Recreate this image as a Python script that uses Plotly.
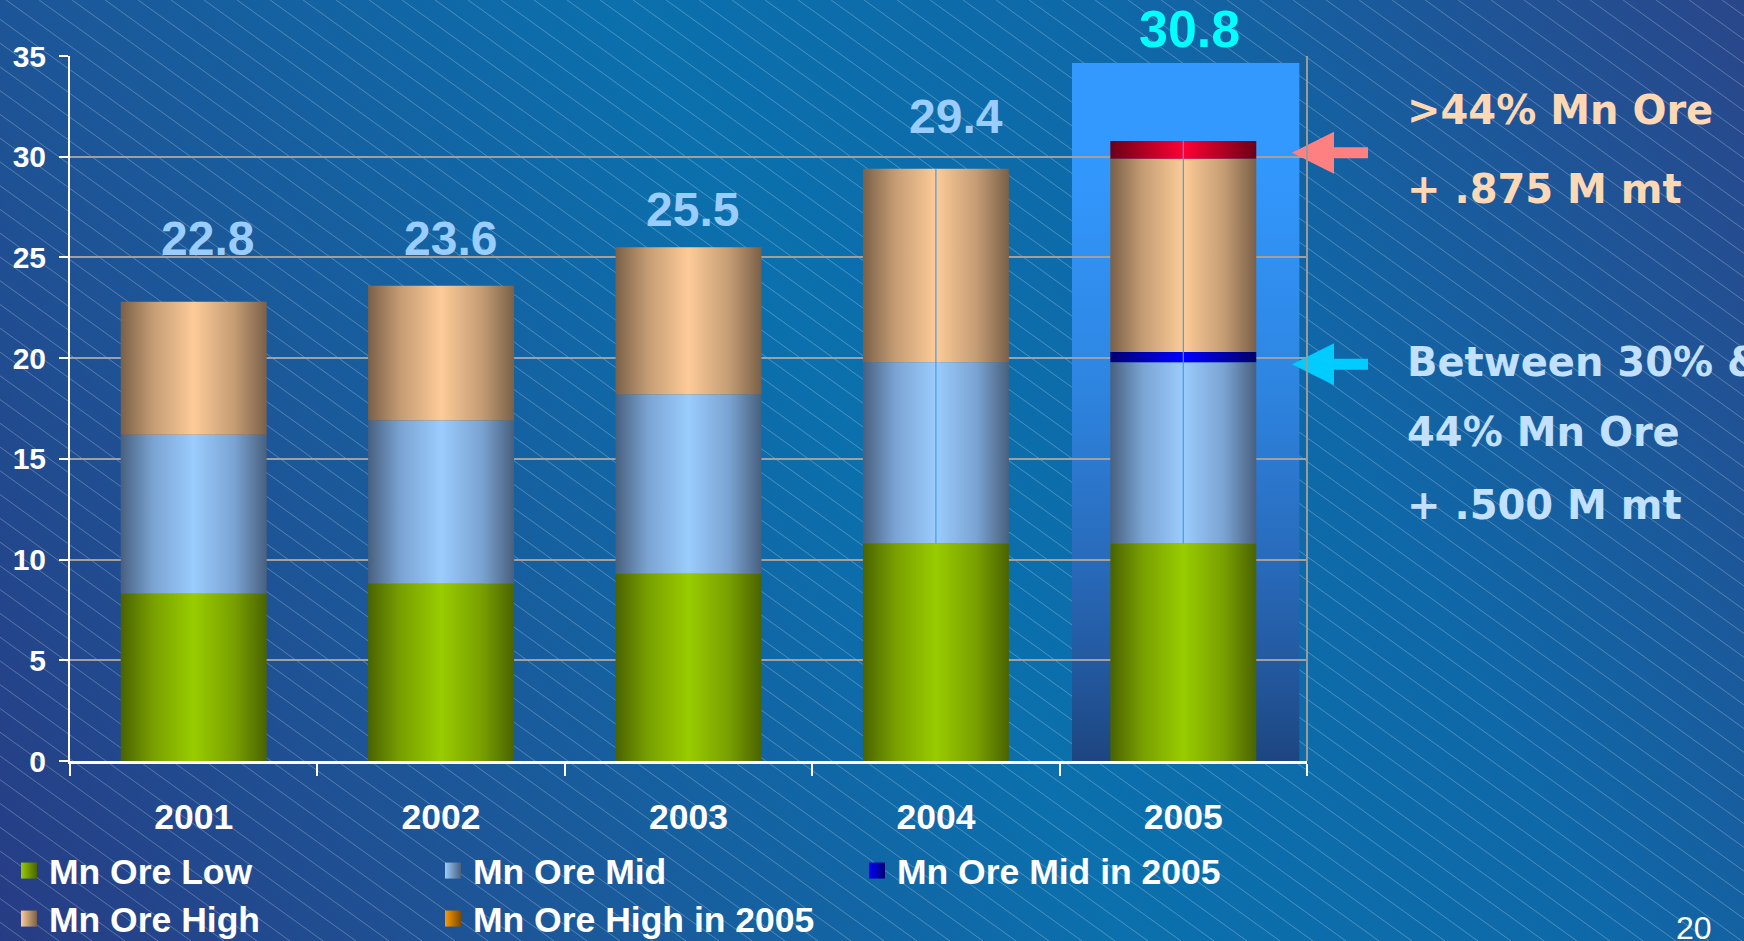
import base64
import plotly.graph_objects as go

# ---------------- data ----------------
years = ["2001", "2002", "2003", "2004", "2005"]
mn_ore_low = [8.3, 8.8, 9.3, 10.8, 10.8]
mn_ore_mid = [7.9, 8.1, 8.9, 9.0, 9.0]
mn_ore_mid_2005 = [0, 0, 0, 0, 0.5]
mn_ore_high = [6.6, 6.7, 7.3, 9.6, 9.6]
mn_ore_high_2005 = [0, 0, 0, 0, 0.875]
totals = [22.8, 23.6, 25.5, 29.4, 30.8]

# ---------------- styles ----------------
W, H = 1744, 941
ML, MR, MT, MB = 70, 437, 56, 180
PW, PH = W - ML - MR, H - MT - MB
Y_MAX = 35
BAR_HALF = 0.295
FONT = "Liberation Sans, Arial, sans-serif"
WIDE_FONT = "DejaVu Sans, Verdana, sans-serif"

scales = {
    "low": [[0, "#4a6300"], [0.22, "#789f00"], [0.5, "#99cc00"], [0.78, "#789f00"], [1, "#4a6300"]],
    "mid": [[0, "#48607f"], [0.22, "#7aa3d2"], [0.5, "#9accfd"], [0.78, "#7aa3d2"], [1, "#48607f"]],
    "mid05": [[0, "#000070"], [0.5, "#0000ff"], [1, "#000066"]],
    "high": [[0, "#7a6048"], [0.22, "#c49c74"], [0.5, "#fdcb98"], [0.78, "#c49c74"], [1, "#7a6048"]],
    "high05": [[0, "#6b0016"], [0.5, "#ff0033"], [1, "#6b0016"]],
}

# label placement (pixel shifts)
label_yshift = [63, 47, 38, 52, 112]
label_xshift = [14, 9, 4, 20, 6]
label_colors = ["#99ccff", "#99ccff", "#99ccff", "#99ccff", "#00ffff"]
label_sizes = [48, 48, 48, 48, 52]

fig = go.Figure()

# ---------------- background (svg) ----------------
lines = []
slope = 0.72
run = H / slope
c = -run - 40
while c < W + 40:
    lines.append(f'<line x1="{c:.1f}" y1="0" x2="{c + run:.1f}" y2="{H}"/>')
    c += 33
bg_svg = (
    f'<svg xmlns="http://www.w3.org/2000/svg" width="{W}" height="{H}" viewBox="0 0 {W} {H}" preserveAspectRatio="none">'
    '<defs><linearGradient id="g" gradientUnits="userSpaceOnUse" x1="0" y1="941" x2="1744" y2="0">'
    '<stop offset="0" stop-color="#273c84"/>'
    '<stop offset="0.22" stop-color="#1d5597"/>'
    '<stop offset="0.5" stop-color="#0b70ad"/>'
    '<stop offset="0.72" stop-color="#0f68a8"/>'
    '<stop offset="1" stop-color="#2a468a"/>'
    '</linearGradient></defs>'
    f'<rect width="{W}" height="{H}" fill="url(#g)"/>'
    '<g stroke="#ffffff" stroke-opacity="0.26" stroke-width="1">' + "".join(lines) + '</g></svg>'
)
fig.add_layout_image(
    source="data:image/svg+xml;base64," + base64.b64encode(bg_svg.encode()).decode(),
    xref="paper", yref="paper",
    x=-ML / PW, y=1 + MT / PH, sizex=W / PW, sizey=H / PH,
    xanchor="left", yanchor="top", sizing="stretch", layer="below",
)

# highlight panel behind 2005
hl_svg = (
    '<svg xmlns="http://www.w3.org/2000/svg" width="100" height="700" viewBox="0 0 100 700" preserveAspectRatio="none">'
    '<defs><linearGradient id="h" x1="0" y1="0" x2="0" y2="1">'
    '<stop offset="0" stop-color="#3399ff"/>'
    '<stop offset="0.12" stop-color="#3399ff"/>'
    '<stop offset="0.45" stop-color="#2e86e2"/>'
    '<stop offset="0.7" stop-color="#296cbd"/>'
    '<stop offset="0.87" stop-color="#23589e"/>'
    '<stop offset="1" stop-color="#1d4680"/>'
    '</linearGradient></defs>'
    '<rect width="100" height="700" fill="url(#h)"/></svg>'
)
hl_idx = years.index("2005")
fig.add_layout_image(
    source="data:image/svg+xml;base64," + base64.b64encode(hl_svg.encode()).decode(),
    xref="x", yref="y", x=hl_idx - 0.45, y=34.66, sizex=0.92, sizey=34.66,
    xanchor="left", yanchor="top", sizing="stretch", layer="below",
)

# ---------------- bars ----------------
segments = [
    (mn_ore_low, "low"),
    (mn_ore_mid, "mid"),
    (mn_ore_mid_2005, "mid05"),
    (mn_ore_high, "high"),
    (mn_ore_high_2005, "high05"),
]
base = [0.0] * len(years)
for vals, key in segments:
    for i, v in enumerate(vals):
        if v > 0:
            x0, x1 = i - BAR_HALF, i + BAR_HALF
            y0, y1 = base[i], base[i] + v
            fig.add_trace(go.Scatter(
                x=[x0, x1, x1, x0, x0], y=[y0, y0, y1, y1, y0],
                mode="lines", fill="toself", line=dict(width=0),
                fillgradient=dict(type="horizontal", colorscale=scales[key]),
                showlegend=False, hoverinfo="skip",
            ))
        base[i] += v

# thin centre lines on 2004 / 2005 bars
cx, cy = [], []
for i in (3, 4):
    cx += [i, i, None]
    cy += [mn_ore_low[i], base[i], None]
fig.add_trace(go.Scatter(x=cx, y=cy, mode="lines", line=dict(color="#4a98e8", width=1.2),
                         showlegend=False, hoverinfo="skip"))

# ---------------- legend entries ----------------
legend_items = [
    ("Mn Ore Low", "#99cc00", "#4a6300", "legend"),
    ("Mn Ore Mid", "#9accfd", "#48607f", "legend"),
    ("Mn Ore Mid in 2005", "#0000ff", "#000070", "legend"),
    ("Mn Ore High", "#fdcb98", "#7a6048", "legend2"),
    ("Mn Ore High in 2005", "#ff9900", "#7a4a00", "legend2"),
]
for name, light, dark, leg in legend_items:
    fig.add_trace(go.Scatter(
        x=[None], y=[None], mode="markers", name=name, legend=leg,
        marker=dict(symbol="square", size=20, color=light,
                    gradient=dict(type="horizontal", color=dark), line=dict(width=0)),
    ))

# ---------------- value labels ----------------
for i, t in enumerate(totals):
    fig.add_annotation(
        x=i, y=t, xref="x", yref="y", text=f"{t:.1f}", showarrow=False,
        xanchor="center", yanchor="middle", xshift=label_xshift[i], yshift=label_yshift[i],
        font=dict(family=FONT, size=label_sizes[i], color=label_colors[i], weight="bold"),
    )

# ---------------- arrows ----------------
arrow_path = "M0,0 L42,21 L42,5.5 L76,5.5 L76,-5.5 L42,-5.5 L42,-21 Z"
ARROW_X = (1292 - ML) / PW
for yv, col in ((30.2, "#ff8080"), (19.7, "#00ccff")):
    fig.add_shape(type="path", path=arrow_path, xref="paper", yref="paper",
                  xsizemode="pixel", ysizemode="pixel", xanchor=ARROW_X, yanchor=yv / Y_MAX,
                  fillcolor=col, line=dict(width=0), layer="above")

# right border of plot area
fig.add_shape(type="line", xref="paper", yref="paper", x0=1, x1=1, y0=0, y1=1,
              line=dict(color="#9a9a9a", width=2), layer="above")

# ---------------- side texts ----------------
TX = (1405 - ML) / PW
side_texts = [
    (">44% Mn Ore", 110, "#fdd8b5"),
    ("+ .875 M mt", 189, "#fdd8b5"),
    ("Between 30% &", 362, "#c2e0ff"),
    ("44% Mn Ore", 432, "#c2e0ff"),
    ("+ .500 M mt", 505, "#c2e0ff"),
]
for txt, ypx, col in side_texts:
    fig.add_annotation(
        x=TX, y=(MT + PH - ypx) / PH,
        xref="paper", yref="paper", text=txt, showarrow=False,
        xanchor="left", yanchor="middle",
        font=dict(family=WIDE_FONT, size=40, color=col, weight="bold"),
    )

# page number
fig.add_annotation(
    x=(1694 - ML) / PW, y=(MT + PH - 908) / PH, xref="paper", yref="paper",
    text="20", showarrow=False, xanchor="center", yanchor="top",
    font=dict(family=FONT, size=32, color="#ffffff"),
)

# ---------------- layout ----------------
LEG_X = (9 - ML) / PW
LEG_FONT = dict(family=FONT, size=35.5, color="#ffffff", weight="bold")
fig.update_layout(
    width=W, height=H, autosize=False,
    margin=dict(l=ML, r=MR, t=MT, b=MB, autoexpand=False),
    paper_bgcolor="#0b6aa8", plot_bgcolor="rgba(0,0,0,0)",
    showlegend=True,
    legend=dict(orientation="h", x=LEG_X, xanchor="left",
                y=(MT + PH - 871) / PH, yanchor="middle",
                entrywidth=379, entrywidthmode="pixels",
                bgcolor="rgba(0,0,0,0)", font=LEG_FONT),
    legend2=dict(orientation="h", x=LEG_X, xanchor="left",
                 y=(MT + PH - 919) / PH, yanchor="middle",
                 entrywidth=379, entrywidthmode="pixels",
                 bgcolor="rgba(0,0,0,0)", font=LEG_FONT),
    xaxis=dict(
        type="linear", range=[-0.5, 4.5], tickmode="array",
        tickvals=list(range(len(years))), ticktext=years,
        ticks="", showgrid=False, zeroline=False,
        showline=True, linecolor="#ffffff", linewidth=2.5,
        tickfont=dict(family=FONT, size=35.5, color="#ffffff", weight="bold"),
        ticklabelstandoff=23,
        minor=dict(tickmode="array", tickvals=[k - 0.5 for k in range(len(years) + 1)],
                   ticks="outside", ticklen=12, tickwidth=2, tickcolor="#ffffff", showgrid=False),
        fixedrange=True,
    ),
    yaxis=dict(
        range=[0, Y_MAX], tickmode="linear", tick0=0, dtick=5,
        showgrid=True, gridcolor="#a0a0a0", gridwidth=2, zeroline=False,
        showline=True, linecolor="#ffffff", linewidth=2,
        ticks="outside", ticklen=9, tickwidth=2, tickcolor="#ffffff",
        tickfont=dict(family=FONT, size=30, color="#ffffff", weight="bold"),
        ticklabelstandoff=7,
        fixedrange=True,
    ),
)

fig.write_html(
    "out.html",
    config={"displayModeBar": False},
    post_script="document.body.style.margin='0';document.body.style.overflow='hidden';",
)
